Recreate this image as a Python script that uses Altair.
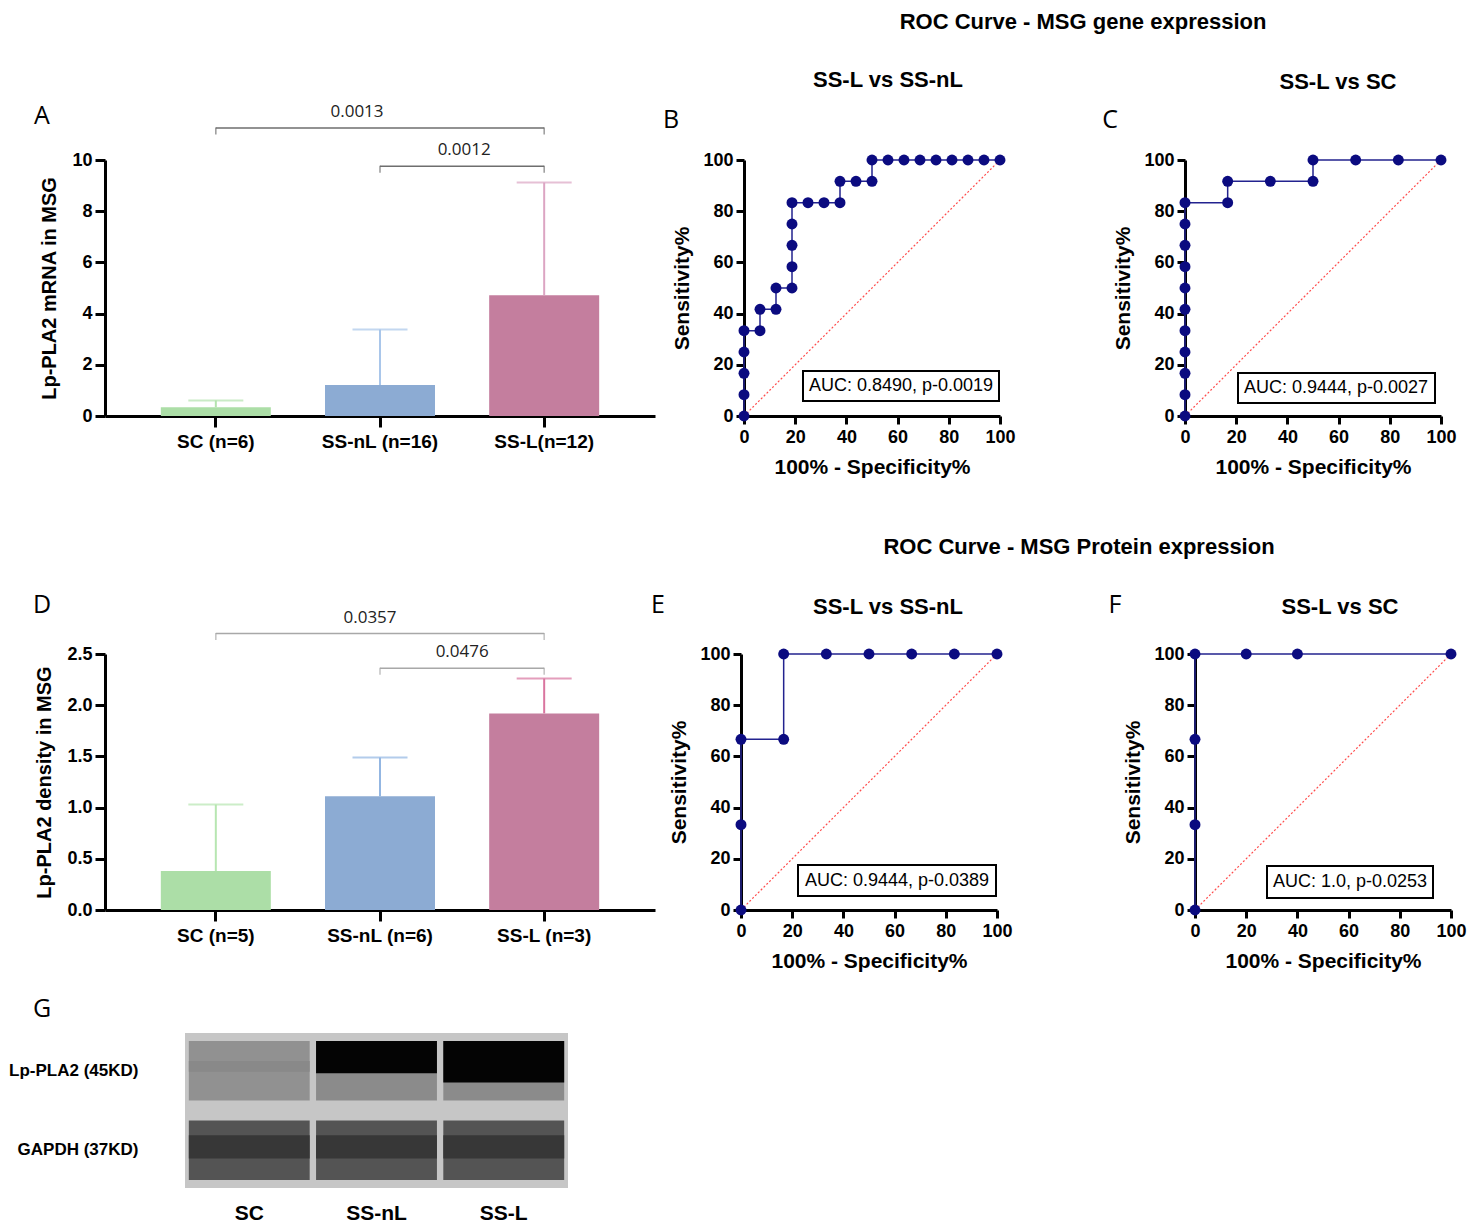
import altair as alt
import pandas as pd

FONT = "Liberation Sans"
NUMFONT = "Open Sans"

# ---------------- data ----------------
# Panel A : mRNA
mrna_groups = ["SC (n=6)", "SS-nL (n=16)", "SS-L(n=12)"]
mrna_mean = [0.34, 1.21, 4.72]
mrna_upper = [0.61, 3.38, 9.12]
mrna_ticks = [0, 2, 4, 6, 8, 10]
mrna_p_labels = ["0.0013", "0.0012"]
mrna_p_from = ["SC (n=6)", "SS-nL (n=16)"]
mrna_p_to = ["SS-L(n=12)", "SS-L(n=12)"]
mrna_p_y = [11.25, 9.76]

# Panel D : protein density
prot_groups = ["SC (n=5)", "SS-nL (n=6)", "SS-L (n=3)"]
prot_mean = [0.38, 1.11, 1.92]
prot_upper = [1.03, 1.49, 2.26]
prot_ticks = [0.0, 0.5, 1.0, 1.5, 2.0, 2.5]
prot_p_labels = ["0.0357", "0.0476"]
prot_p_from = ["SC (n=5)", "SS-nL (n=6)"]
prot_p_to = ["SS-L (n=3)", "SS-L (n=3)"]
prot_p_y = [2.70, 2.36]

# ROC curves (100% - specificity, sensitivity)
b_fpr = [0, 0, 0, 0, 0, 6.25, 6.25, 12.5, 12.5, 18.75, 18.75, 18.75, 18.75, 18.75,
         25, 31.25, 37.5, 37.5, 43.75, 50, 50, 56.25, 62.5, 68.75, 75, 81.25, 87.5, 93.75, 100]
b_tpr = [0, 8.33, 16.67, 25, 33.33, 33.33, 41.67, 41.67, 50, 50, 58.33, 66.67, 75, 83.33,
         83.33, 83.33, 83.33, 91.67, 91.67, 91.67, 100, 100, 100, 100, 100, 100, 100, 100, 100]
c_fpr = [0, 0, 0, 0, 0, 0, 0, 0, 0, 0, 0, 16.67, 16.67, 33.33, 50, 50, 66.67, 83.33, 100]
c_tpr = [0, 8.33, 16.67, 25, 33.33, 41.67, 50, 58.33, 66.67, 75, 83.33, 83.33, 91.67,
         91.67, 91.67, 100, 100, 100, 100]
e_fpr = [0, 0, 0, 16.67, 16.67, 33.33, 50, 66.67, 83.33, 100]
e_tpr = [0, 33.33, 66.67, 66.67, 100, 100, 100, 100, 100, 100]
f_fpr = [0, 0, 0, 0, 20, 40, 100]
f_tpr = [0, 33.33, 66.67, 100, 100, 100, 100]
diag_fpr = [0, 100]
diag_tpr = [0, 100]
roc_ticks = [0, 20, 40, 60, 80, 100]

# Western blot (G)
blot_lanes = ["SC", "SS-nL", "SS-L"]
blot_rows = ["Lp-PLA2 (45KD)", "GAPDH (37KD)"]
cell_lane = ["SC", "SS-nL", "SS-L", "SC", "SS-nL", "SS-L"]
cell_row = ["Lp-PLA2 (45KD)"] * 3 + ["GAPDH (37KD)"] * 3
cell_darkness = [0.31, 0.34, 0.34, 0.60, 0.60, 0.60]
band_lane = ["SC", "SS-nL", "SS-L", "SC", "SS-nL", "SS-L"]
band_low = [0.75, 0.74, 0.68, 0.19, 0.19, 0.19]
band_high = [0.82, 0.948, 0.948, 0.34, 0.34, 0.34]
band_darkness = [0.35, 0.98, 0.98, 0.74, 0.74, 0.74]

BAR_FILL = ["#acdea7", "#8cabd3", "#c47e9e"]
ERR_A = ["#b4e3ae", "#a9c6ea", "#dca5c3"]
ERR_D = ["#b7e6b1", "#93b6e2", "#d9759f"]
NAVY_LINE = "#23238f"
NAVY_PT = "#0b0b80"


def text_layer(t, x, y, size, weight="bold", font=FONT, color="black", align="center"):
    return alt.Chart(pd.DataFrame({"t": [t]})).mark_text(
        font=font, fontSize=size, fontWeight=weight, color=color, align=align, baseline="middle"
    ).encode(x=alt.value(x), y=alt.value(y), text="t:N")


def bar_panel(groups, means, uppers, ticks, fmt, ytitle, p_labels, p_from, p_to, p_y,
              p_anchor, p_dx, bracket_color, err_colors, letter, letter_xy):
    df = pd.DataFrame({"g": groups, "m": means, "u": uppers})
    ymax = ticks[-1]
    xscale = alt.Scale(domain=groups, paddingInner=0.33, paddingOuter=0.34)
    xaxis = alt.Axis(title=None, labelAngle=0, labelFont=FONT, labelFontSize=19,
                     labelFontWeight="bold", tickSize=11, tickWidth=3, domainWidth=3,
                     labelPadding=5)
    yscale = alt.Scale(domain=[0, ymax], nice=False)
    yaxis = alt.Axis(values=ticks, format=fmt, title=ytitle, titleFont=FONT,
                     titleFontSize=20, titleFontWeight="bold", titlePadding=12,
                     labelFont=FONT, labelFontSize=18, labelFontWeight="bold",
                     tickSize=10, tickWidth=3, domainWidth=3, labelPadding=3)
    X = alt.X("g:N", scale=xscale, axis=xaxis)
    bars = alt.Chart(df).mark_bar().encode(
        x=X, y=alt.Y("m:Q", scale=yscale, axis=yaxis),
        fill=alt.Fill("g:N", scale=alt.Scale(domain=groups, range=BAR_FILL), legend=None))
    ecol = alt.Color("g:N", scale=alt.Scale(domain=groups, range=err_colors), legend=None)
    err = alt.Chart(df).mark_rule(strokeWidth=2).encode(
        x=alt.X("g:N"), y=alt.Y("m:Q"), y2="u:Q", color=ecol)
    cap = alt.Chart(df).mark_tick(orient="horizontal", size=55, thickness=2).encode(
        x=alt.X("g:N"), y=alt.Y("u:Q"), color=ecol)
    bdf = pd.DataFrame({"lab": p_labels, "f": p_from, "t": p_to, "y": p_y})
    brule = alt.Chart(bdf).mark_rule(strokeWidth=1.5, color=bracket_color).encode(
        x=alt.X("f:N"), x2="t:N", y=alt.Y("y:Q"))
    ends = pd.DataFrame({"g": p_from + p_to, "y": p_y + p_y})
    bticks = alt.Chart(ends).mark_tick(orient="vertical", size=7, thickness=1.5,
                                       color=bracket_color, yOffset=3).encode(
        x=alt.X("g:N"), y=alt.Y("y:Q"))
    layers = [bars, err, cap, brule, bticks]
    for lab, anc, yv, dx in zip(p_labels, p_anchor, p_y, p_dx):
        tdf = pd.DataFrame({"lab": [lab], "g": [anc], "y": [yv]})
        layers.append(alt.Chart(tdf).mark_text(font=NUMFONT, fontSize=17, color="#222222",
                                               dx=dx, dy=-16, baseline="middle").encode(
            x=alt.X("g:N"), y=alt.Y("y:Q"), text="lab:N"))
    layers.append(text_layer(letter, letter_xy[0], letter_xy[1], 25, "normal", NUMFONT))
    return alt.layer(*layers).properties(width=550, height=256)


def roc_panel(fpr, tpr, auc, letter, letter_xy, sub, sub_xy, box, txt_xy, title=None, title_xy=None):
    df = pd.DataFrame({"fpr": fpr, "tpr": tpr, "i": list(range(len(fpr)))})
    ddf = pd.DataFrame({"fpr": diag_fpr, "tpr": diag_tpr})
    sc = alt.Scale(domain=[0, 100], nice=False)
    xax = alt.Axis(values=roc_ticks, title="100% - Specificity%", titleFont=FONT,
                   titleFontSize=21, titleFontWeight="bold", titlePadding=10,
                   labelFont=FONT, labelFontSize=18, labelFontWeight="bold",
                   tickSize=8, tickWidth=3, domainWidth=3, labelPadding=4)
    yax = alt.Axis(values=roc_ticks, title="Sensitivity%", titleFont=FONT,
                   titleFontSize=21, titleFontWeight="bold", titlePadding=10,
                   labelFont=FONT, labelFontSize=18, labelFontWeight="bold",
                   tickSize=8, tickWidth=3, domainWidth=3, labelPadding=3)
    X = alt.X("fpr:Q", scale=sc, axis=xax)
    Y = alt.Y("tpr:Q", scale=sc, axis=yax)
    diag = alt.Chart(ddf).mark_line(color="#ff4d4d", strokeWidth=1.2, strokeDash=[2, 2]).encode(x=X, y=Y)
    line = alt.Chart(df).mark_line(color=NAVY_LINE, strokeWidth=1.5).encode(
        x=X, y=Y, order=alt.Order("i:Q"))
    pts = alt.Chart(df).mark_point(filled=True, size=120, color=NAVY_PT, opacity=1).encode(x=X, y=Y)
    rect = alt.Chart(pd.DataFrame({"t": [0]})).mark_rect(
        fill="white", stroke="black", strokeWidth=2).encode(
        x=alt.value(box[0]), x2=alt.value(box[1]), y=alt.value(box[2]), y2=alt.value(box[3]))
    layers = [diag, line, pts, rect,
              text_layer(auc, txt_xy[0], txt_xy[1], 18, "normal"),
              text_layer(letter, letter_xy[0], letter_xy[1], 25, "normal", NUMFONT),
              text_layer(sub, sub_xy[0], sub_xy[1], 22, "bold")]
    if title:
        layers.append(text_layer(title, title_xy[0], title_xy[1], 22, "bold"))
    return alt.layer(*layers).properties(width=256, height=256)


A = bar_panel(mrna_groups, mrna_mean, mrna_upper, mrna_ticks, "d", "Lp-PLA2 mRNA in MSG",
              mrna_p_labels, mrna_p_from, mrna_p_to, mrna_p_y,
              ["SS-nL (n=16)", "SS-L(n=12)"], [-23, -80], "#6e6e6e", ERR_A, "A", (-63, -44))
D = bar_panel(prot_groups, prot_mean, prot_upper, prot_ticks, ".1f", "Lp-PLA2 density in MSG",
              prot_p_labels, prot_p_from, prot_p_to, prot_p_y,
              ["SS-nL (n=6)", "SS-L (n=3)"], [-10, -82], "#a8a8a8", ERR_D, "D", (-63, -49))

B = roc_panel(b_fpr, b_tpr, "AUC: 0.8490, p-0.0019", "B", (-73, -40), "SS-L vs SS-nL", (144, -80),
              (59, 255, 211, 241), (157, 226), "ROC Curve - MSG gene expression", (339, -138))
C = roc_panel(c_fpr, c_tpr, "AUC: 0.9444, p-0.0027", "C", (-75, -40), "SS-L vs SC", (153, -78),
              (53, 250, 213, 243), (151, 228))
E = roc_panel(e_fpr, e_tpr, "AUC: 0.9444, p-0.0389", "E", (-83, -49), "SS-L vs SS-nL", (147, -47),
              (57, 255, 211, 242), (156, 227), "ROC Curve - MSG Protein expression", (338, -107))
F = roc_panel(f_fpr, f_tpr, "AUC: 1.0, p-0.0253", "F", (-80, -49), "SS-L vs SC", (145, -47),
              (72, 238, 212, 244), (155, 228))

# Western blot
cells = pd.DataFrame({"lane": cell_lane, "row": cell_row, "d": cell_darkness})
bands = pd.DataFrame({"lane": band_lane, "lo": band_low, "hi": band_high, "d": band_darkness})
gray = alt.Scale(domain=[0, 1], range=["#d2d2d2", "#000000"], interpolate="rgb")
GX = alt.X("lane:N", scale=alt.Scale(domain=blot_lanes, paddingInner=0.05, paddingOuter=0.03),
           axis=alt.Axis(title=None, labelAngle=0, ticks=False, domain=False, labelFont=FONT,
                         labelFontSize=21, labelFontWeight="bold", labelPadding=14))
g_cells = alt.Chart(cells).mark_rect().encode(
    x=GX,
    y=alt.Y("row:N", scale=alt.Scale(domain=blot_rows, paddingInner=0.25, paddingOuter=0.1),
            axis=alt.Axis(title=None, ticks=False, domain=False, labelFont=FONT, labelFontSize=17,
                          labelFontWeight="bold", labelPadding=47)),
    color=alt.Color("d:Q", scale=gray, legend=None))
g_bands = alt.Chart(bands).mark_rect().encode(
    x=GX,
    y=alt.Y("lo:Q", scale=alt.Scale(domain=[0, 1], nice=False), axis=None), y2="hi:Q",
    color=alt.Color("d:Q", scale=gray, legend=None))
G = alt.layer(g_cells, g_bands, text_layer("G", -143, -24, 25, "normal", NUMFONT)).resolve_scale(
    y="independent").properties(width=383, height=155,
                                view=alt.ViewBackground(fill="#c6c6c6", stroke=None))

spacer = alt.Chart(pd.DataFrame({"t": [""]})).mark_text().encode(
    text="t:N", x=alt.value(0), y=alt.value(0)).properties(width=1, height=1)

row1 = alt.hconcat(A, alt.hconcat(B, C, spacing=185, bounds="flush"), spacing=89, bounds="flush")
row2 = alt.hconcat(D, alt.hconcat(E, F, spacing=198, bounds="flush"), spacing=86, bounds="flush")
row3 = alt.hconcat(spacer, G, spacing=79, bounds="flush")

chart = alt.vconcat(row1, alt.vconcat(row2, row3, spacing=26),
                    spacing=59).properties(
    padding={"top": 3, "left": 0, "right": 0, "bottom": 0}).configure_view(
    stroke=None).configure_axis(grid=False, domainColor="black", tickColor="black",
                                labelColor="black", titleColor="black", labelFlush=False,
                                labelOverlap=False)

chart.save("out.html", embed_options={"renderer": "svg", "actions": False})
